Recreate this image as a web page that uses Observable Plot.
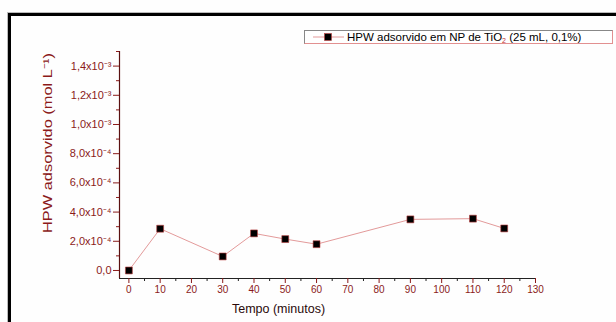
<!DOCTYPE html>
<html>
<head>
<meta charset="utf-8">
<script src="https://cdn.jsdelivr.net/npm/d3@7"></script>
<script src="https://cdn.jsdelivr.net/npm/@observablehq/plot@0.6"></script>
<style>
  html, body { margin: 0; padding: 0; background: #fff; }
  #wrap { position: relative; width: 616px; height: 322px; overflow: hidden; font-family: "Liberation Sans", Arial, sans-serif; background: #fefefe; }
  #frame { position: absolute; left: 7px; top: 12px; width: 700px; height: 400px; border-left: 1px solid #bbb; border-top: 1px solid #bbb; }
  #frame2 { position: absolute; left: 8px; top: 13px; width: 700px; height: 400px; border-left: 3px solid #000; border-top: 3px solid #000; }
  #chart { position: absolute; left: 0; top: 0; }
  #legend { position: absolute; left: 304px; top: 30px; width: 307px; height: 12px; border: 1px solid #888; border-right-color: #e29090; border-bottom-color: #e29090; background: #fff; font-size: 11.5px; line-height: 12px; color: #000; white-space: nowrap; }
  #legend svg { position: absolute; left: 8px; top: 0; }
  #legend .t { position: absolute; left: 42px; top: 0; }
  #legend sub { color: #c03030; font-size: 7px; vertical-align: -2px; line-height: 0; }
</style>
</head>
<body>
<div id="wrap">
  <div id="frame"></div>
  <div id="frame2"></div>
  <div id="chart"></div>
  <div id="legend">
    <svg width="32" height="12"><line x1="0" y1="6" x2="31" y2="6" stroke="#e39a9a" stroke-width="1"/><rect x="11.5" y="2.5" width="7" height="7" fill="#000" stroke="#c04040" stroke-width="0.6"/></svg>
    <span class="t">HPW adsorvido em NP de TiO<sub>2</sub> (25 mL, 0,1%)</span>
  </div>
</div>
<script>
const times = [0, 10, 30, 40, 50, 60, 90, 110, 120];
const values = [0, 2.86e-4, 0.96e-4, 2.54e-4, 2.15e-4, 1.8e-4, 3.5e-4, 3.55e-4, 2.88e-4];
const xTicks = [0, 10, 20, 30, 40, 50, 60, 70, 80, 90, 100, 110, 120, 130];
const xMinor = [5, 15, 25, 35, 45, 55, 65, 75, 85, 95, 105, 115, 125];
const yTicks = [0, 2e-4, 4e-4, 6e-4, 8e-4, 1.0e-3, 1.2e-3, 1.4e-3];
const yMinor = [1e-4, 3e-4, 5e-4, 7e-4, 9e-4, 1.1e-3, 1.3e-3, 1.5e-3];
const xTitle = "Tempo (minutos)";
const yTitle = "HPW adsorvido (mol L\u207B\u00B9)";

const data = times.map((t, i) => ({t, v: values[i]}));
const xDomain = [-3, 130];
const yDomain = [-0.55e-4, 1.5e-3];

function fmtY(v) {
  if (Math.abs(v) < 1e-12) return "0,0";
  if (v < 9.99e-4) return (v / 1e-4).toFixed(1).replace(".", ",") + "x10\u207B\u2074";
  return (v / 1e-3).toFixed(1).replace(".", ",") + "x10\u207B\u00B3";
}

const red = "#8b1a1a";

const chart = Plot.plot({
  width: 616,
  height: 322,
  marginLeft: 119,
  marginRight: 81,
  marginTop: 51,
  marginBottom: 44,
  style: {fontFamily: "'Liberation Sans', Arial, sans-serif", background: "transparent"},
  x: {domain: xDomain},
  y: {domain: yDomain},
  marks: [
    Plot.ruleX([xDomain[0]], {y1: yDomain[0], y2: yDomain[1], stroke: "#5a1010", strokeWidth: 1.2}),
    Plot.ruleY([yDomain[0]], {x1: xDomain[0], x2: xDomain[1], stroke: "#222", strokeWidth: 1.2}),
    Plot.axisY(yTicks, {anchor: "left", tickSize: 6, tickPadding: 2, tickFormat: fmtY, color: red, fontSize: 11, label: null}),
    Plot.axisY(yMinor, {anchor: "left", tickSize: 3, text: null, color: red, label: null}),
    Plot.axisX(xTicks, {anchor: "bottom", tickSize: 5, tickPadding: 2, color: red, fontSize: 10, label: null}),
    Plot.axisX(xMinor, {anchor: "bottom", tickSize: 3, text: null, color: "#222", label: null}),
    Plot.line(data, {x: "t", y: "v", stroke: "#e39a9a", strokeWidth: 1}),
    Plot.dot(data, {x: "t", y: "v", symbol: "square", r: 3.9, fill: "#000", stroke: "#c04040", strokeWidth: 0.6}),
    Plot.text([yTitle], {frameAnchor: "left", textAnchor: "middle", lineAnchor: "middle", dx: -72, dy: -22, rotate: -90, fontSize: 12.5, fill: red}),
    Plot.text([xTitle], {frameAnchor: "bottom", dx: -49, dy: 34, fontSize: 12.5, fill: "#2a0a0a"})
  ]
});
chart.querySelectorAll("text").forEach(t => {
  if (t.textContent === yTitle) {
    t.setAttribute("textLength", 180);
    t.setAttribute("lengthAdjust", "spacingAndGlyphs");
  }
});
document.getElementById("chart").appendChild(chart);
</script>
</body>
</html>
